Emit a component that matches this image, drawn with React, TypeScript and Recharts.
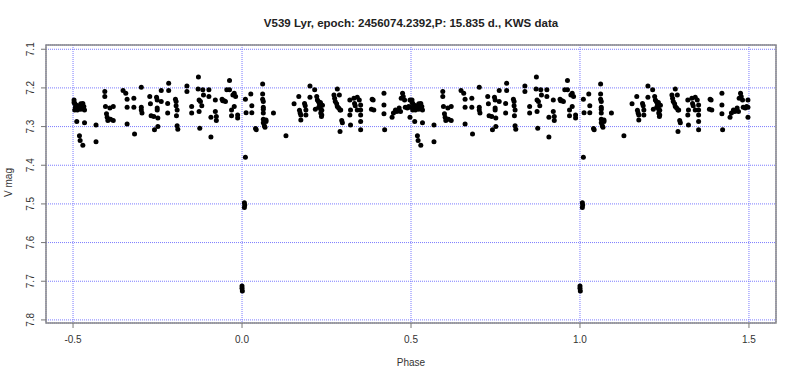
import { ScatterChart, Scatter, XAxis, YAxis, CartesianGrid, ReferenceArea } from "recharts";

// phase, V mag pairs (one cycle, -0.5..0.5)
const preEclipse: [number, number][] = [
  [-0.497, 7.231], [-0.497, 7.238], [-0.495, 7.257], [-0.495, 7.24], [-0.493, 7.25], [-0.491, 7.244],
  [-0.487, 7.257], [-0.485, 7.252], [-0.481, 7.246], [-0.477, 7.241], [-0.477, 7.255], [-0.473, 7.25],
  [-0.471, 7.24], [-0.468, 7.248], [-0.466, 7.257], [-0.489, 7.287], [-0.466, 7.29], [-0.481, 7.324],
  [-0.479, 7.336], [-0.471, 7.348], [-0.432, 7.296], [-0.432, 7.339],
  [-0.406, 7.209], [-0.406, 7.222], [-0.404, 7.248], [-0.401, 7.267], [-0.399, 7.276], [-0.397, 7.284],
  [-0.391, 7.252], [-0.389, 7.281], [-0.381, 7.248], [-0.381, 7.284],
  [-0.352, 7.207], [-0.344, 7.214], [-0.34, 7.229], [-0.34, 7.25], [-0.34, 7.293], [-0.32, 7.227],
  [-0.32, 7.25], [-0.318, 7.319],
  [-0.298, 7.198], [-0.298, 7.25], [-0.298, 7.257], [-0.296, 7.265],
  [-0.273, 7.222], [-0.271, 7.241], [-0.269, 7.272], [-0.261, 7.274], [-0.259, 7.308], [-0.253, 7.224],
  [-0.251, 7.231], [-0.251, 7.252], [-0.251, 7.257], [-0.249, 7.278], [-0.249, 7.3], [-0.239, 7.207],
  [-0.239, 7.235],
  [-0.217, 7.188], [-0.217, 7.207], [-0.22, 7.24], [-0.22, 7.265],
  [-0.197, 7.229], [-0.195, 7.235], [-0.195, 7.246], [-0.192, 7.257], [-0.194, 7.272], [-0.192, 7.298],
  [-0.19, 7.307],
  [-0.163, 7.195], [-0.163, 7.209], [-0.149, 7.248], [-0.149, 7.265],
  [-0.129, 7.172], [-0.13, 7.203], [-0.127, 7.231], [-0.127, 7.261], [-0.125, 7.304], [-0.123, 7.235],
  [-0.119, 7.246], [-0.116, 7.205], [-0.114, 7.218],
  [-0.098, 7.205], [-0.098, 7.222], [-0.092, 7.276], [-0.092, 7.327], [-0.079, 7.231], [-0.079, 7.261],
  [-0.076, 7.274], [-0.076, 7.284],
  [-0.059, 7.229], [-0.057, 7.233], [-0.053, 7.233], [-0.049, 7.235], [-0.045, 7.205],
  [-0.037, 7.181], [-0.037, 7.205], [-0.027, 7.218], [-0.023, 7.214], [-0.023, 7.248], [-0.019, 7.222],
  [-0.031, 7.257], [-0.031, 7.272], [-0.013, 7.27], [-0.013, 7.278],
];

const eclipse: [number, number][] = [
  [0.0, 7.712], [0.0, 7.718], [0.001, 7.725], [0.007, 7.497], [0.008, 7.503], [0.007, 7.509], [0.01, 7.379],
];

const postEclipse: [number, number][] = [
  [0.01, 7.229], [0.012, 7.264], [0.026, 7.216], [0.029, 7.246], [0.029, 7.264], [0.04, 7.305], [0.042, 7.308],
  [0.061, 7.19], [0.061, 7.216], [0.061, 7.229], [0.063, 7.235], [0.063, 7.25], [0.063, 7.255], [0.063, 7.265],
  [0.063, 7.281], [0.063, 7.29], [0.066, 7.298], [0.068, 7.302], [0.071, 7.283], [0.071, 7.287],
  [0.093, 7.265], [0.13, 7.324],
  [0.154, 7.241], [0.168, 7.222], [0.17, 7.258], [0.172, 7.265], [0.174, 7.27], [0.174, 7.283],
  [0.185, 7.24], [0.187, 7.246], [0.189, 7.257], [0.189, 7.27],
  [0.201, 7.195], [0.201, 7.224], [0.215, 7.205], [0.217, 7.255], [0.221, 7.222], [0.223, 7.231],
  [0.226, 7.235], [0.229, 7.241], [0.231, 7.248], [0.233, 7.265], [0.235, 7.274], [0.236, 7.27],
  [0.227, 7.25], [0.233, 7.255], [0.236, 7.258], [0.238, 7.245], [0.232, 7.238],
  [0.282, 7.203], [0.272, 7.218], [0.274, 7.227], [0.276, 7.235], [0.28, 7.241], [0.282, 7.248],
  [0.286, 7.252], [0.288, 7.218], [0.29, 7.257], [0.292, 7.257], [0.295, 7.284], [0.297, 7.29], [0.29, 7.313],
  [0.319, 7.231], [0.321, 7.257], [0.319, 7.27], [0.321, 7.296], [0.331, 7.227], [0.333, 7.24],
  [0.335, 7.246], [0.341, 7.224], [0.347, 7.231], [0.351, 7.244], [0.351, 7.257], [0.351, 7.27],
  [0.351, 7.287], [0.351, 7.308], [0.341, 7.257],
  [0.383, 7.255], [0.388, 7.231], [0.39, 7.257], [0.385, 7.229],
  [0.42, 7.214], [0.42, 7.244], [0.42, 7.267], [0.422, 7.308],
  [0.444, 7.276], [0.448, 7.265], [0.454, 7.257], [0.458, 7.261], [0.465, 7.252], [0.469, 7.261],
  [0.471, 7.227], [0.475, 7.214], [0.477, 7.222], [0.481, 7.231], [0.483, 7.25], [0.489, 7.252],
  [0.493, 7.248], [0.497, 7.231], [0.497, 7.25], [0.497, 7.276],
];

const phaseTicks = [-0.5, 0, 0.5, 1, 1.5];
const magTicks = [7.1, 7.2, 7.3, 7.4, 7.5, 7.6, 7.7, 7.8];
const phaseDomain: [number, number] = [-0.58, 1.58];
const magDomain: [number, number] = [7.089, 7.808];

// the light curve is shown over two cycles, the same observations repeated one phase later
const cycle = [...preEclipse, ...eclipse, ...postEclipse];
const data = [
  ...cycle.map(([phase, mag]) => ({ phase, mag })),
  ...cycle.map(([phase, mag]) => ({ phase: phase + 1, mag })),
];

const font = '"Liberation Sans", Arial, sans-serif';

const YTick = ({ x, y, payload }: any) => (
  <text
    x={x - 5}
    y={y}
    transform={`rotate(-90 ${x - 5} ${y})`}
    textAnchor="middle"
    fontSize={10}
    fontFamily={font}
    fill="#333"
  >
    {payload.value.toFixed(1)}
  </text>
);

const Dot = ({ cx, cy }: any) => <circle cx={cx} cy={cy} r={2.5} fill="#000" />;

export default function App() {
  return (
    <div style={{ position: "absolute", left: 0, top: 0, width: 800, height: 381, background: "#fff", fontFamily: font }}>
      <div
        style={{
          position: "absolute", left: 46, width: 730, top: 17, textAlign: "center",
          fontWeight: "bold", fontSize: 11.5, color: "#222",
        }}
      >
        V539 Lyr, epoch: 2456074.2392,P: 15.835 d., KWS data
      </div>
      <div style={{ position: "absolute", left: 46, width: 730, top: 357, textAlign: "center", fontSize: 10, color: "#333" }}>
        Phase
      </div>
      <div
        style={{
          position: "absolute", left: 8, top: 184, width: 60, marginLeft: -30, marginTop: -7, textAlign: "center",
          fontSize: 10, color: "#333", transform: "rotate(-90deg)",
        }}
      >
        V mag
      </div>
      <ScatterChart width={800} height={381} margin={{ top: 45, right: 24, bottom: 28, left: 0 }}>
        <CartesianGrid stroke="#7a7aff" strokeDasharray="1 1" strokeWidth={1} />
        <XAxis
          type="number"
          dataKey="phase"
          domain={phaseDomain}
          ticks={phaseTicks}
          allowDataOverflow
          height={30}
          axisLine={false}
          tickSize={5}
          tickMargin={8}
          tickLine={{ stroke: "#777" }}
          tick={{ fontSize: 10, fontFamily: font, fill: "#333" }}
          tickFormatter={(v: number) => v.toFixed(1)}
        />
        <YAxis
          type="number"
          dataKey="mag"
          domain={magDomain}
          ticks={magTicks}
          reversed
          allowDataOverflow
          width={46}
          axisLine={false}
          tickSize={5}
          tickMargin={2}
          tickLine={{ stroke: "#777" }}
          tick={<YTick />}
        />
        <ReferenceArea
          x1={phaseDomain[0]}
          x2={phaseDomain[1]}
          y1={magDomain[0]}
          y2={magDomain[1]}
          fill="none"
          stroke="#888"
          strokeWidth={1.5}
          ifOverflow="visible"
        />
        <Scatter data={data} shape={<Dot />} isAnimationActive={false} />
      </ScatterChart>
    </div>
  );
}
